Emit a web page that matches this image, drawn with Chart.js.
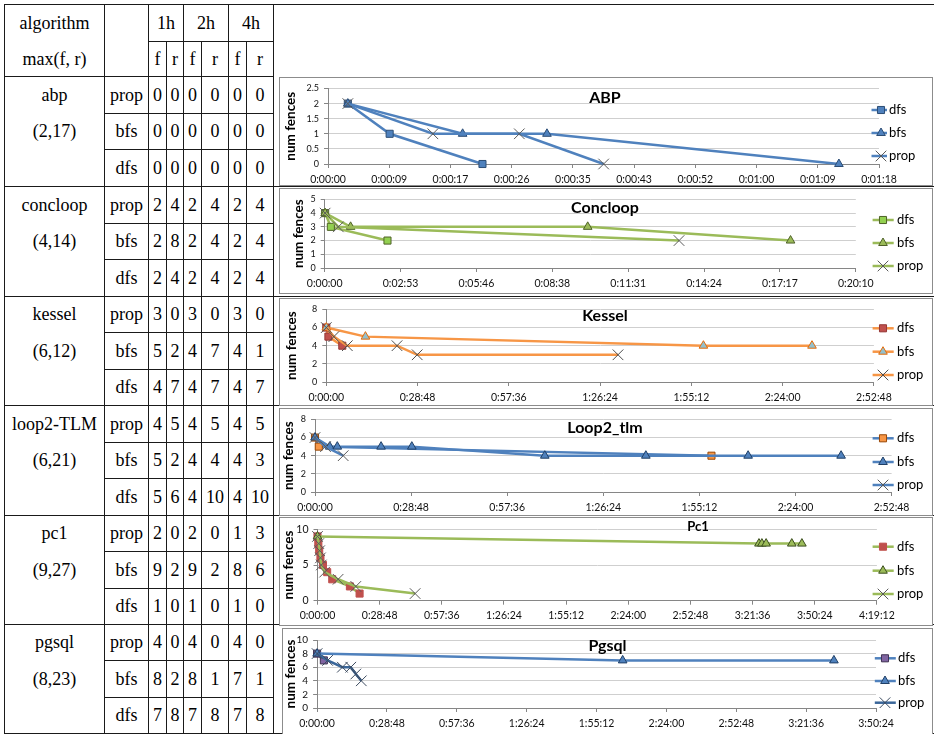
<!DOCTYPE html>
<html><head><meta charset="utf-8">
<script src="https://cdn.jsdelivr.net/npm/chart.js@4.4.1/dist/chart.umd.min.js"></script>
<style>
html,body{margin:0;padding:0;background:#fff;}
#page{position:relative;width:934px;height:734px;overflow:hidden;background:#fff;}
.ln{position:absolute;background:#1a1a1a;}
.tx{position:absolute;display:flex;align-items:center;justify-content:center;font-family:"Liberation Serif","Times New Roman",serif;font-size:18px;color:#000;white-space:nowrap;}
.box{position:absolute;border:1px solid #8c8c8c;box-sizing:border-box;background:#fff;}
.box canvas{display:block;}
</style></head><body><div id="page"></div>
<script>
// ---------- table data ----------
const algorithms = ['abp','concloop','kessel','loop2-TLM','pc1','pgsql'];
const maxFR = ['(2,17)','(4,14)','(6,12)','(6,21)','(9,27)','(8,23)'];
const methods = ['prop','bfs','dfs'];
const timeHeaders = ['1h','2h','4h'];
const subHeaders = ['f','r','f','r','f','r'];
const abpCounts = [[0,0,0,0,0,0],[0,0,0,0,0,0],[0,0,0,0,0,0]];
const concloopCounts = [[2,4,2,4,2,4],[2,8,2,4,2,4],[2,4,2,4,2,4]];
const kesselCounts = [[3,0,3,0,3,0],[5,2,4,7,4,1],[4,7,4,7,4,7]];
const loop2Counts = [[4,5,4,5,4,5],[5,2,4,4,4,3],[5,6,4,10,4,10]];
const pc1Counts = [[2,0,2,0,1,3],[9,2,9,2,8,6],[1,0,1,0,1,0]];
const pgsqlCounts = [[4,0,4,0,4,0],[8,2,8,1,7,1],[7,8,7,8,7,8]];

// ---------- chart data (time in seconds, number of fences) ----------
const chartTitles = ['ABP','Concloop','Kessel','Loop2_tlm','Pc1','Pgsql'];
const seriesLabels = ['dfs','bfs','prop'];

const abpDfsT = [2.8, 8.7, 21.8];            const abpDfsN = [2, 1, 0];
const abpBfsT = [2.8, 19.0, 30.9, 72.1];     const abpBfsN = [2, 1, 1, 0];
const abpPropT = [2.8, 14.8, 27.0, 38.9];    const abpPropN = [2, 1, 1, 0];

const concDfsT = [1, 14, 143];               const concDfsN = [4, 3, 2];
const concBfsT = [1, 59, 599, 1061];         const concBfsN = [4, 3, 3, 2];
const concPropT = [1, 31, 807];              const concPropN = [4, 3, 2];

const kesDfsT = [0, 40, 303];                const kesDfsN = [6, 5, 4];
const kesBfsT = [0, 741, 7140, 9196];        const kesBfsN = [6, 5, 4, 4];
const kesPropT = [0, 143, 398, 1339, 1721, 5523]; const kesPropN = [6, 5, 4, 4, 3, 3];

const loopDfsT = [0, 68, 7129];              const loopDfsN = [6, 5, 4];
const loopBfsT = [0, 265, 401, 1188, 1741, 4132, 5949, 7788, 9460];
const loopBfsN = [6, 5, 5, 5, 5, 4, 4, 4, 4];
const loopPropT = [0, 189, 507];             const loopPropN = [6, 5, 4];

const pcDfsT = [0, 23, 47, 82, 152, 269, 410, 901, 1170];
const pcDfsN = [9, 8, 7, 6, 5, 4, 3, 2, 1];
const pcBfsT = [0, 12273, 12355, 12472, 13186, 13467];
const pcBfsN = [9, 8, 8, 8, 8, 8];
const pcPropT = [0, 35, 59, 82, 105, 199, 573, 1065, 2714];
const pcPropN = [9, 8, 7, 6, 5, 4, 3, 2, 1];

const pgDfsT = [0, 167];                     const pgDfsN = [8, 7];
const pgBfsT = [0, 7558, 12783];             const pgBfsN = [8, 7, 7];
const pgPropT = [0, 260, 625, 833, 958, 1093]; const pgPropN = [8, 7, 6, 6, 5, 4];

// axis ranges (seconds / fences)
const xAxisMax  = [77.76, 1209.6, 10368, 10368, 15552, 13824];
const xAxisStep = [8.64, 172.8, 1728, 1728, 1728, 1728];
const yAxisMax  = [2.5, 5, 8, 8, 10, 10];
const yAxisStep = [0.5, 1, 2, 2, 5, 2];

// ---------- table drawing ----------
const page = document.getElementById('page');
function hline(x1,x2,y){const d=document.createElement('div');d.className='ln';d.style.cssText=`left:${x1}px;top:${y}px;width:${x2-x1+1}px;height:1px`;page.appendChild(d);}
function vline(x,y1,y2){const d=document.createElement('div');d.className='ln';d.style.cssText=`left:${x}px;top:${y1}px;width:1px;height:${y2-y1+1}px`;page.appendChild(d);}
function tx(t,x1,x2,y1,y2){const d=document.createElement('div');d.className='tx';d.textContent=t;d.style.cssText=`left:${x1+1}px;top:${y1+1}px;width:${x2-x1-1}px;height:${y2-y1-1}px`;page.appendChild(d);}

const cx = [4,104,148,166,183,201,228,246,273];
const gy = [76,186,296,405,515,624,733];
hline(4,934,4); hline(148,273,41); hline(4,273,76);
for (let g=1; g<gy.length; g++) hline(4,934,gy[g]);
const rowY = [];
for (let g=0; g<6; g++){
  const h = gy[g+1]-gy[g];
  const r = [gy[g], gy[g]+Math.round(h/3), gy[g]+Math.round(2*h/3), gy[g+1]];
  rowY.push(r);
  hline(104,273,r[1]); hline(104,273,r[2]);
}
[4,104,148,183,228,273].forEach(x=>vline(x,4,733));
[166,201,246].forEach(x=>vline(x,41,733));

tx('algorithm',4,104,4,41); tx('max(f, r)',4,104,41,76);
timeHeaders.forEach((h,i)=>tx(h,cx[2+2*i],cx[4+2*i],4,41));
subHeaders.forEach((s,i)=>tx(s,cx[2+i],cx[3+i],41,76));
const allCounts = [abpCounts,concloopCounts,kesselCounts,loop2Counts,pc1Counts,pgsqlCounts];
for (let g=0; g<6; g++){
  const r = rowY[g];
  tx(algorithms[g],4,104,r[0],r[1]);
  tx(maxFR[g],4,104,r[1],r[2]);
  for (let m=0; m<3; m++){
    tx(methods[m],104,148,r[m],r[m+1]);
    allCounts[g][m].forEach((v,c)=>tx(String(v),cx[2+c],cx[3+c],r[m],r[m+1]));
  }
}

// ---------- charts ----------
function fmtTime(v){
  const s = Math.round(v);
  const h = Math.floor(s/3600), m = Math.floor((s%3600)/60), sec = s%60;
  return h+':'+String(m).padStart(2,'0')+':'+String(sec).padStart(2,'0');
}
function drawMarker(ctx, shape, x, y, r, fill, stroke, bw){
  ctx.save(); ctx.fillStyle=fill; ctx.strokeStyle=stroke; ctx.lineWidth=bw; ctx.beginPath();
  if (shape==='rect'){ const s=r*Math.SQRT1_2; ctx.rect(x-s,y-s,2*s,2*s); ctx.fill(); ctx.stroke(); }
  else if (shape==='triangle'){
    let a=0; ctx.moveTo(x+Math.sin(a)*r,y-Math.cos(a)*r);
    a+=2*Math.PI/3; ctx.lineTo(x+Math.sin(a)*r,y-Math.cos(a)*r);
    a+=2*Math.PI/3; ctx.lineTo(x+Math.sin(a)*r,y-Math.cos(a)*r);
    ctx.closePath(); ctx.fill(); ctx.stroke();
  } else {
    const d=r*Math.SQRT1_2; ctx.moveTo(x-d,y-d); ctx.lineTo(x+d,y+d); ctx.moveTo(x-d,y+d); ctx.lineTo(x+d,y-d); ctx.stroke();
  }
  ctx.restore();
}
const overlay = {
  id:'overlay',
  afterDatasetsDraw(chart, args, o){
    const ctx = chart.ctx;
    ctx.save();
    ctx.font = `bold ${o.titleSize}px Lato`; ctx.fillStyle='#000'; ctx.textAlign='center'; ctx.textBaseline='middle';
    ctx.fillText(o.title, o.titleX, o.titleY);
    ctx.font = '13px Lato'; ctx.textAlign='left';
    chart.data.datasets.forEach((ds,i)=>{
      const y = o.legY[i];
      ctx.strokeStyle = ds.borderColor; ctx.lineWidth = 2.5;
      ctx.beginPath(); ctx.moveTo(o.legX1,y); ctx.lineTo(o.legX2,y); ctx.stroke();
      drawMarker(ctx, ds.pointStyle, o.legM, y, ds.pointRadius, ds.pointBackgroundColor, ds.pointBorderColor, ds.pointBorderWidth);
      ctx.fillStyle='#000'; ctx.fillText(ds.label, o.legT, y);
    });
    ctx.restore();
  }
};

function series(label, ts, ns, st, order){
  return {label, data: ts.map((t,i)=>({x:t,y:ns[i]})), showLine:true, borderColor:st.line, borderWidth:2.5,
    pointStyle:st.shape, pointRadius:st.r, pointBackgroundColor:st.fill, pointBorderColor:st.stroke,
    pointBorderWidth:st.bw, clip:false, tension:0, order};
}

const blue='#4F81BD', green='#9BBB59', orange='#F79646';
const charts = [
  {box:[279,77,654,109], pl:48, pr:599, pt:10.5, pb:86, tX:325, tY:20, tS:16, legX1:591.5, legX2:607, legM:601, legT:609, legY:[32,55,78], yPad:3, yFont:9,
   series:[[abpDfsT,abpDfsN],[abpBfsT,abpBfsN],[abpPropT,abpPropN]],
   styles:[{line:blue,shape:'rect',r:5,fill:blue,stroke:'#2C4D75',bw:1},{line:blue,shape:'triangle',r:5,fill:blue,stroke:'#2C4D75',bw:1},{line:blue,shape:'crossRot',r:7.5,fill:'#595959',stroke:'#595959',bw:1}]},
  {box:[279,188,654,106], pl:44.7, pr:575.8, pt:10, pb:79, tX:325, tY:19, tS:16, legX1:592.6, legX2:613.7, legM:603, legT:617, legY:[31,54,77], yPad:10.5, yFont:9,
   series:[[concDfsT,concDfsN],[concBfsT,concBfsN],[concPropT,concPropN]],
   styles:[{line:green,shape:'rect',r:5,fill:'#92D050',stroke:'#4F6228',bw:1},{line:green,shape:'triangle',r:5,fill:green,stroke:'#4F6228',bw:1},{line:green,shape:'crossRot',r:7.5,fill:'#595959',stroke:'#595959',bw:1}]},
  {box:[279,298,654,108], pl:46.3, pr:593.9, pt:6.3, pb:83, tX:325, tY:17, tS:16, legX1:592.6, legX2:613.7, legM:603, legT:617, legY:[29.3,52.7,76], yPad:4, yFont:9,
   series:[[kesDfsT,kesDfsN],[kesBfsT,kesBfsN],[kesPropT,kesPropN]],
   styles:[{line:orange,shape:'rect',r:5,fill:'#C0504D',stroke:'#943634',bw:1},{line:orange,shape:'triangle',r:5,fill:'#93C0CC',stroke:'#E46C0A',bw:1},{line:orange,shape:'crossRot',r:7.5,fill:'#4d4d4d',stroke:'#4d4d4d',bw:1}]},
  {box:[279,408,654,108], pl:35, pr:611.6, pt:4.3, pb:83, tX:325, tY:18.7, tS:16, legX1:592.6, legX2:613.7, legM:603, legT:617, legY:[29.3,53,76], yPad:1, yFont:9,
   series:[[loopDfsT,loopDfsN],[loopBfsT,loopBfsN],[loopPropT,loopPropN]],
   styles:[{line:blue,shape:'rect',r:5,fill:orange,stroke:'#984807',bw:1},{line:blue,shape:'triangle',r:5,fill:blue,stroke:'#1F3F66',bw:1},{line:blue,shape:'crossRot',r:7.5,fill:'#595959',stroke:'#595959',bw:1}]},
  {box:[279,517,654,109], pl:37.5, pr:596.9, pt:4.3, pb:82.7, tX:418, tY:9.3, tS:13, legX1:592.6, legX2:613.7, legM:603, legT:617, legY:[28.7,52.7,76], yPad:1, yFont:10.5,
   series:[[pcDfsT,pcDfsN],[pcBfsT,pcBfsN],[pcPropT,pcPropN]],
   styles:[{line:green,shape:'rect',r:5,fill:'#C0504D',stroke:'#C0504D',bw:1},{line:green,shape:'triangle',r:5,fill:green,stroke:'#3C4F1F',bw:1},{line:green,shape:'crossRot',r:7.5,fill:'#595959',stroke:'#595959',bw:1}]},
  {box:[282,628,651,107], pl:34.1, pr:593, pt:8.7, pb:79, tX:324.5, tY:17, tS:16, legX1:591.8, legX2:612.8, legM:602, legT:615, legY:[29.3,52,73.7], yPad:0, yFont:10,
   series:[[pgDfsT,pgDfsN],[pgBfsT,pgBfsN],[pgPropT,pgPropN]],
   styles:[{line:blue,shape:'rect',r:5,fill:'#8064A2',stroke:'#3F3151',bw:1},{line:blue,shape:'triangle',r:5,fill:blue,stroke:'#1F3F66',bw:1},{line:'#3A6699',shape:'crossRot',r:7.5,fill:'#3b4a5e',stroke:'#3b4a5e',bw:1}]}
];

function build(){
  charts.forEach((c,k)=>{
    const box = document.createElement('div'); box.className='box';
    box.style.cssText = `left:${c.box[0]}px;top:${c.box[1]}px;width:${c.box[2]}px;height:${c.box[3]}px`;
    const W = c.box[2]-2, H = c.box[3]-2;
    const cv = document.createElement('canvas'); cv.width=W; cv.height=H; cv.style.width=W+'px'; cv.style.height=H+'px';
    box.appendChild(cv); page.appendChild(box);
    const datasets = c.series.map((s,i)=>series(seriesLabels[i], s[0], s[1], c.styles[i], 3-i));
    new Chart(cv, {
      type:'scatter',
      data:{datasets},
      plugins:[overlay],
      options:{
        responsive:false, animation:false, devicePixelRatio:1, events:[],
        layout:{padding:{left:0, top:c.pt, right:W-c.pr, bottom:0}},
        plugins:{legend:{display:false}, tooltip:{enabled:false},
          overlay:{title:chartTitles[k], titleX:c.tX, titleY:c.tY, titleSize:c.tS, legX1:c.legX1, legX2:c.legX2, legM:c.legM, legT:c.legT, legY:c.legY}},
        scales:{
          x:{type:'linear', min:0, max:xAxisMax[k],
             ticks:{stepSize:xAxisStep[k], autoSkip:false, maxRotation:0, minRotation:0, padding:5, color:'#111', font:{family:'Lato', size:10.5}, callback:v=>fmtTime(v)},
             grid:{drawOnChartArea:false, drawTicks:true, tickLength:4, color:'#868686'},
             border:{color:'#868686', width:1},
             afterFit:s=>{s.height = H - c.pb;}},
          y:{type:'linear', min:0, max:yAxisMax[k],
             ticks:{stepSize:yAxisStep[k], autoSkip:false, padding:5, color:'#111', font:{family:'Lato', size:c.yFont}, callback:v=>String(+Number(v).toFixed(2))},
             grid:{color:'#cfcfcf', tickColor:'#868686', tickLength:4},
             border:{color:'#868686', width:1},
             title:{display:true, text:'num fences', color:'#000', font:{family:'Lato', size:13.5, weight:'bold'}, padding:{top:c.yPad, bottom:0}},
             afterFit:s=>{s.width = c.pl;}}
        }
      }
    });
  });
}
let built=false;
function go(){ if(!built){built=true; build();} }
if (document.fonts && document.fonts.load){
  Promise.all([document.fonts.load('10px Lato'), document.fonts.load('bold 16px Lato'), document.fonts.load('18px "Liberation Serif"')]).then(go, go);
  setTimeout(go, 400);
} else go();
</script></body></html>
